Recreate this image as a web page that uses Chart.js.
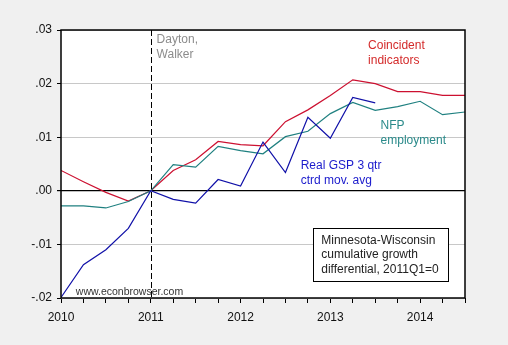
<!DOCTYPE html>
<html>
<head>
<meta charset="utf-8">
<script src="https://cdn.jsdelivr.net/npm/chart.js@4/dist/chart.umd.min.js"></script>
<style>
  html, body { margin: 0; padding: 0; background: #f0f0f0; }
  canvas { display: block; }
</style>
</head>
<body>
<canvas id="chart" width="508" height="345"></canvas>
<script>
// quarterly, Minnesota minus Wisconsin, cumulative growth since 2011Q1
const quarters = ['2010Q1','2010Q2','2010Q3','2010Q4','2011Q1','2011Q2','2011Q3','2011Q4',
                  '2012Q1','2012Q2','2012Q3','2012Q4','2013Q1','2013Q2','2013Q3','2013Q4',
                  '2014Q1','2014Q2','2014Q3'];
const coincident = [0.0038, 0.0017, -0.0003, -0.0019, 0, 0.0038, 0.0058, 0.0092, 0.0086, 0.0084,
                    0.0129, 0.0151, 0.0178, 0.0207, 0.0200, 0.0185, 0.0185, 0.0178, 0.0178];
const nfp = [-0.0028, -0.0028, -0.0032, -0.0020, 0, 0.0049, 0.0044, 0.0083, 0.0075, 0.0069,
             0.0101, 0.0111, 0.0144, 0.0165, 0.0150, 0.0157, 0.0167, 0.0142, 0.0147];
const gsp = [-0.0199, -0.0138, -0.0110, -0.0070, 0, -0.0016, -0.0023, 0.0021, 0.0009, 0.0091,
             0.0034, 0.0137, 0.0098, 0.0174, 0.0164, null, null, null, null];
const yTicks = [-0.02, -0.01, 0, 0.01, 0.02, 0.03];
const xYears = [2010, 2011, 2012, 2013, 2014];
const eventDate = 2011; // Dayton, Walker take office

const FONT = 'Arial, "Liberation Sans", sans-serif';

function qToYear(q) {
  return parseInt(q.slice(0, 4)) + (parseInt(q.slice(5)) - 1) / 4;
}
function toPoints(vals) {
  return quarters.map((q, i) => ({ x: qToYear(q), y: vals[i] }));
}

const notes = [
  { lines: ['Dayton,', 'Walker'], x: 2011.065, y: 0.0281, color: '#8c8c8c' },
  { lines: ['Coincident', 'indicators'], x: 2013.42, y: 0.0270, color: '#d42a2a' },
  { lines: ['NFP', 'employment'], x: 2013.56, y: 0.0122, color: '#2a8a8a' },
  { lines: ['Real GSP 3 qtr', 'ctrd mov. avg'], x: 2012.67, y: 0.0047, color: '#1a1acc' }
];

const decor = {
  id: 'decor',
  beforeDraw(chart) {
    const { ctx, chartArea: a } = chart;
    ctx.save();
    ctx.fillStyle = '#f0f0f0';
    ctx.fillRect(0, 0, chart.width, chart.height);
    ctx.fillStyle = '#ffffff';
    ctx.fillRect(a.left, a.top, a.right - a.left, a.bottom - a.top);
    ctx.restore();
  },
  afterDatasetsDraw(chart) {
    const { ctx, chartArea: a, scales } = chart;
    const xs = scales.x, ys = scales.y;
    ctx.save();
    // vertical dashed marker
    const ex = Math.round(xs.getPixelForValue(eventDate)) + 0.5;
    ctx.strokeStyle = '#000';
    ctx.lineWidth = 1;
    ctx.setLineDash([6, 3]);
    ctx.beginPath();
    ctx.moveTo(ex, a.top);
    ctx.lineTo(ex, a.bottom);
    ctx.stroke();
    ctx.setLineDash([]);

    // frame
    ctx.lineWidth = 1.5;
    ctx.strokeRect(a.left, a.top, a.right - a.left, a.bottom - a.top);

    // text labels
    ctx.font = '12px ' + FONT;
    ctx.textBaseline = 'middle';
    ctx.textAlign = 'left';
    notes.forEach(n => {
      ctx.fillStyle = n.color;
      const px = xs.getPixelForValue(n.x);
      const py = ys.getPixelForValue(n.y);
      n.lines.forEach((t, i) => ctx.fillText(t, px, py + i * 15));
    });

    // caption box
    const bx = xs.getPixelForValue(2012.81), by = ys.getPixelForValue(-0.0070);
    const bw = 135, bh = 53;
    ctx.fillStyle = '#fff';
    ctx.fillRect(bx, by, bw, bh);
    ctx.lineWidth = 1;
    ctx.strokeStyle = '#000';
    ctx.strokeRect(Math.round(bx) + 0.5, Math.round(by) + 0.5, bw, bh);
    ctx.fillStyle = '#222';
    ['Minnesota-Wisconsin', 'cumulative growth', 'differential, 2011Q1=0']
      .forEach((t, i) => ctx.fillText(t, bx + 8, by + 12 + i * 14.7));

    // site credit
    ctx.font = '10.5px ' + FONT;
    ctx.fillStyle = '#333';
    ctx.fillText('www.econbrowser.com', xs.getPixelForValue(2010.165), ys.getPixelForValue(-0.0189));
    ctx.restore();
  }
};

new Chart(document.getElementById('chart'), {
  type: 'line',
  data: {
    datasets: [
      { label: 'Real GSP 3 qtr ctrd mov. avg', data: toPoints(gsp), borderColor: '#1010a8', order: 1 },
      { label: 'NFP employment', data: toPoints(nfp), borderColor: '#1f8080', order: 2 },
      { label: 'Coincident indicators', data: toPoints(coincident), borderColor: '#cc1030', order: 3 }
    ]
  },
  options: {
    responsive: false,
    animation: false,
    spanGaps: false,
    elements: {
      line: { borderWidth: 1.2, tension: 0 },
      point: { radius: 0 }
    },
    layout: { padding: { left: 0, right: 43, top: 30, bottom: 0 } },
    plugins: {
      legend: { display: false },
      tooltip: { enabled: false }
    },
    scales: {
      x: {
        type: 'linear',
        min: 2010,
        max: 2014.5,
        afterBuildTicks(scale) {
          const t = [];
          for (let v = 2010; v <= 2014.5 + 1e-9; v += 0.25) t.push({ value: v });
          scale.ticks = t;
        },
        afterFit(scale) { scale.height = 47; },
        grid: { drawOnChartArea: false, tickLength: 5, tickColor: '#000', tickWidth: 1 },
        border: { display: false },
        ticks: {
          autoSkip: false,
          maxRotation: 0,
          padding: 7,
          color: '#111',
          font: { family: FONT, size: 12 },
          callback: v => xYears.includes(v) ? String(v) : ''
        }
      },
      y: {
        min: -0.02,
        max: 0.03,
        afterBuildTicks(scale) { scale.ticks = yTicks.map(v => ({ value: v })); },
        afterFit(scale) { scale.width = 61; },
        grid: {
          color: c => (c.tick && Math.abs(c.tick.value) < 1e-9) ? '#000' : '#c8c8c8',
          lineWidth: c => (c.tick && Math.abs(c.tick.value) < 1e-9) ? 1.2 : 1,
          tickLength: 4,
          tickColor: '#000'
        },
        border: { display: false },
        ticks: {
          padding: 5,
          color: '#111',
          font: { family: FONT, size: 12 },
          callback: v => v.toFixed(2).replace('0.', '.')
        }
      }
    }
  },
  plugins: [decor]
});
</script>
</body>
</html>
